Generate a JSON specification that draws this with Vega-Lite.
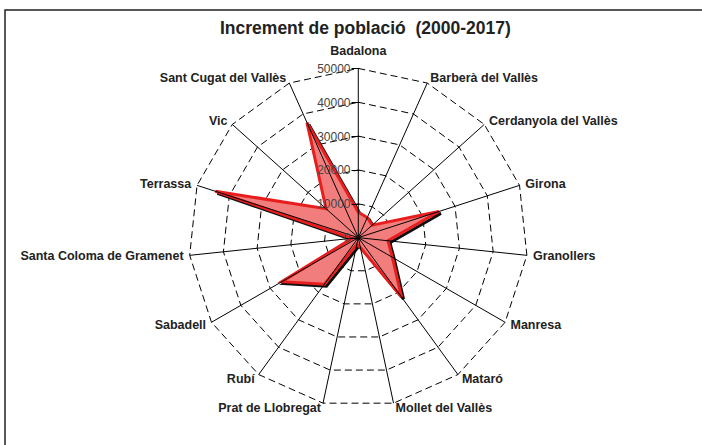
{
  "$schema": "https://vega.github.io/schema/vega-lite/v6.json",
  "width": 702,
  "height": 445,
  "autosize": {"type": "fit", "contains": "padding"},
  "padding": {"left": 5, "top": 10, "right": -3, "bottom": -3},
  "background": "white",
  "config": {"view": {"stroke": "#222", "strokeWidth": 1.5}, "axisX": {"disable": true}},
  "datasets": {
    "pop": [
      {"ciutat": "Badalona", "increment": 7500},
      {"ciutat": "Barberà del Vallès", "increment": 6500},
      {"ciutat": "Cerdanyola del Vallès", "increment": 5500},
      {"ciutat": "Girona", "increment": 25000},
      {"ciutat": "Granollers", "increment": 8800},
      {"ciutat": "Manresa", "increment": 11600},
      {"ciutat": "Mataró", "increment": 21700},
      {"ciutat": "Mollet del Vallès", "increment": 3000},
      {"ciutat": "Prat de Llobregat", "increment": 2000},
      {"ciutat": "Rubí", "increment": 17000},
      {"ciutat": "Sabadell", "increment": 26000},
      {"ciutat": "Santa Coloma de Gramenet", "increment": 1800},
      {"ciutat": "Terrassa", "increment": 44300},
      {"ciutat": "Vic", "increment": 12800},
      {"ciutat": "Sant Cugat del Vallès", "increment": 37200}
    ]
  },
  "data": {"name": "pop"},
  "transform": [
    {"window": [{"op": "row_number", "as": "i"}]},
    {"calculate": "(datum.i-1)*2*PI/15", "as": "ang"},
    {"calculate": "sin(datum.ang)", "as": "s"},
    {"calculate": "cos(datum.ang)", "as": "c"},
    {"calculate": "datum.increment*datum.s", "as": "px"},
    {"calculate": "datum.increment*datum.c", "as": "py"},
    {"calculate": "50000*datum.s", "as": "sx"},
    {"calculate": "50000*datum.c", "as": "sy"},
    {"calculate": "51500*datum.s", "as": "lx"},
    {"calculate": "51500*datum.c", "as": "ly"}
  ],
  "layer": [
    {
      "transform": [
        {"calculate": "[10000,20000,30000,40000,50000]", "as": "lv"},
        {"flatten": ["lv"]},
        {"calculate": "datum.lv*datum.s", "as": "gx"},
        {"calculate": "datum.lv*datum.c", "as": "gy"}
      ],
      "mark": {"type": "line", "interpolate": "linear-closed", "stroke": "#000", "strokeWidth": 1, "strokeDash": [7, 4]},
      "encoding": {
        "x": {"field": "gx", "type": "quantitative", "scale": {"domain": [-104200, 102260], "nice": false, "zero": false}},
        "y": {"field": "gy", "type": "quantitative", "scale": {"domain": [-62150, 67260], "nice": false, "zero": false}},
        "detail": {"field": "lv", "type": "nominal"},
        "order": {"field": "i", "type": "quantitative"}
      }
    },
    {
      "mark": {"type": "line", "interpolate": "linear-closed", "stroke": "#111", "strokeWidth": 3, "xOffset": 2, "yOffset": 2, "strokeJoin": "miter"},
      "encoding": {
        "x": {"field": "px", "type": "quantitative", "scale": {"domain": [-104200, 102260], "nice": false, "zero": false}},
        "y": {"field": "py", "type": "quantitative", "scale": {"domain": [-62150, 67260], "nice": false, "zero": false}},
        "order": {"field": "i", "type": "quantitative"}
      }
    },
    {
      "mark": {"type": "line", "interpolate": "linear-closed", "fill": "#F27D7D", "stroke": "#E81E1E", "strokeWidth": 3, "strokeJoin": "miter"},
      "encoding": {
        "x": {"field": "px", "type": "quantitative", "scale": {"domain": [-104200, 102260], "nice": false, "zero": false}},
        "y": {"field": "py", "type": "quantitative", "scale": {"domain": [-62150, 67260], "nice": false, "zero": false}},
        "order": {"field": "i", "type": "quantitative"}
      }
    },
    {
      "mark": {"type": "rule", "stroke": "#000", "strokeWidth": 1},
      "encoding": {
        "x": {"field": "sx", "type": "quantitative", "scale": {"domain": [-104200, 102260], "nice": false, "zero": false}},
        "y": {"field": "sy", "type": "quantitative", "scale": {"domain": [-62150, 67260], "nice": false, "zero": false},
          "axis": {"values": [0, 10000, 20000, 30000, 40000, 50000], "format": "d", "offset": -354, "domain": false, "grid": false, "tickSize": 8, "tickColor": "#000", "tickWidth": 1, "labelFontSize": 12, "labelColor": "#444", "labelFont": "Liberation Sans", "labelPadding": 1, "labelOverlap": false, "labelFlush": false, "title": null, "zindex": 1}},
        "x2": {"datum": 0},
        "y2": {"datum": 0}
      }
    },
    {
      "data": {"values": [{}]},
      "mark": {"type": "point", "filled": true, "color": "#111", "size": 22, "opacity": 1},
      "encoding": {
        "x": {"datum": 0, "type": "quantitative", "scale": {"domain": [-104200, 102260], "nice": false, "zero": false}},
        "y": {"datum": 0, "type": "quantitative", "scale": {"domain": [-62150, 67260], "nice": false, "zero": false}}
      }
    },
    {
      "transform": [{"filter": "datum.i == 1"}, {"calculate": "55000*datum.c", "as": "ty"}],
      "mark": {"type": "text", "align": "center", "baseline": "middle", "font": "Liberation Sans", "fontWeight": "bold", "fontSize": 12.5, "color": "#222"},
      "encoding": {
        "x": {"field": "lx", "type": "quantitative", "scale": {"domain": [-104200, 102260], "nice": false, "zero": false}},
        "y": {"field": "ty", "type": "quantitative", "scale": {"domain": [-62150, 67260], "nice": false, "zero": false}},
        "text": {"field": "ciutat"}
      }
    },
    {
      "transform": [{"filter": "datum.i >= 2 && datum.i <= 8"}],
      "mark": {"type": "text", "align": "left", "baseline": "middle", "dx": 1, "font": "Liberation Sans", "fontWeight": "bold", "fontSize": 12.5, "color": "#222"},
      "encoding": {
        "x": {"field": "lx", "type": "quantitative", "scale": {"domain": [-104200, 102260], "nice": false, "zero": false}},
        "y": {"field": "ly", "type": "quantitative", "scale": {"domain": [-62150, 67260], "nice": false, "zero": false}},
        "text": {"field": "ciutat"}
      }
    },
    {
      "transform": [{"filter": "datum.i >= 9"}],
      "mark": {"type": "text", "align": "right", "baseline": "middle", "dx": -1, "font": "Liberation Sans", "fontWeight": "bold", "fontSize": 12.5, "color": "#222"},
      "encoding": {
        "x": {"field": "lx", "type": "quantitative", "scale": {"domain": [-104200, 102260], "nice": false, "zero": false}},
        "y": {"field": "ly", "type": "quantitative", "scale": {"domain": [-62150, 67260], "nice": false, "zero": false}},
        "text": {"field": "ciutat"}
      }
    },
    {
      "data": {"values": [{}]},
      "mark": {"type": "text", "text": "Increment de població\u00a0 (2000-2017)", "align": "center", "baseline": "alphabetic", "font": "Liberation Sans", "fontWeight": "bold", "fontSize": 17.5, "color": "#222"},
      "encoding": {
        "x": {"datum": 2100, "type": "quantitative", "scale": {"domain": [-104200, 102260], "nice": false, "zero": false}},
        "y": {"datum": 60110, "type": "quantitative", "scale": {"domain": [-62150, 67260], "nice": false, "zero": false}}
      }
    }
  ]
}
